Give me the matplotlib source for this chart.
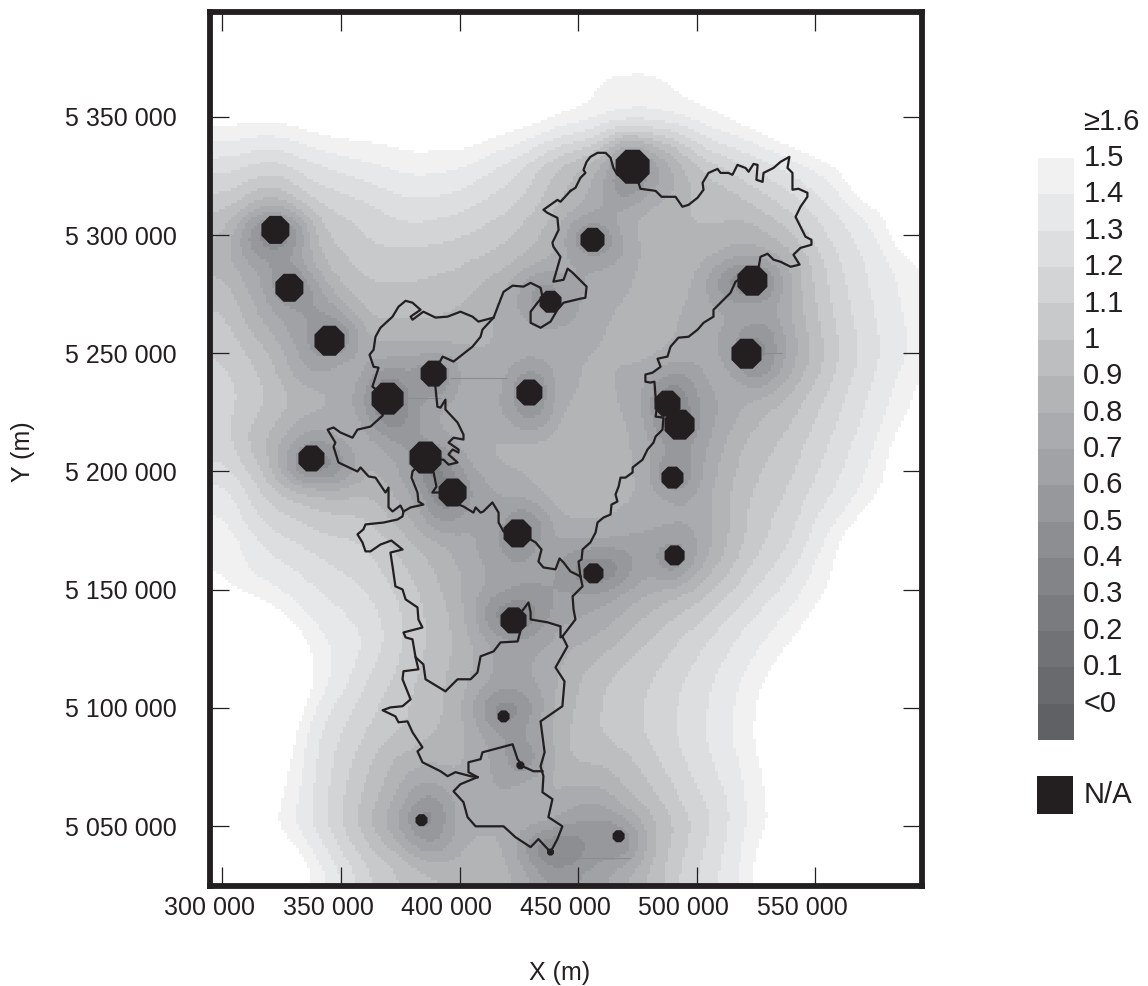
import numpy as np
import matplotlib
matplotlib.use("Agg")
import matplotlib.pyplot as plt
from matplotlib.colors import ListedColormap, BoundaryNorm
from matplotlib.patches import Rectangle
from matplotlib.transforms import ScaledTranslation
from matplotlib.tri import Triangulation, LinearTriInterpolator

plt.rcParams['font.family'] = ['Liberation Sans', 'DejaVu Sans']
INK = '#231f20'

# Field readings (band value) on a 20 km grid, km coordinates
grid_x = [300, 320, 340, 360, 380, 400, 420, 440, 460, 480, 500, 520, 540, 560, 580, 600]
grid_y = [5390, 5370, 5350, 5330, 5310, 5290, 5270, 5250, 5230, 5210, 5190, 5170, 5150, 5130, 5110, 5090, 5070, 5050, 5030]
field = [
 [2.0, 2.0, 2.0, 2.0, 2.0, 2.0, 2.0, 2.0, 1.9, 1.9, 2.0, 2.0, 2.0, 2.0, 2.0, 2.0],
 [1.9, 1.9, 1.9, 1.9, 2.0, 2.0, 2.0, 1.7, 1.5, 1.48, 1.6, 1.9, 2.0, 2.0, 2.0, 2.0],
 [1.55, 1.52, 1.6, 1.62, 1.65, 1.7, 1.6, 1.5, 1.42, 1.38, 1.45, 1.55, 1.75, 1.9, 2.0, 2.0],
 [1.25, 1.15, 1.3, 1.38, 1.45, 1.42, 1.28, 1.0, 0.8, 0.6, 1.0, 1.2, 1.35, 1.5, 1.9, 2.0],
 [1.0, 0.7, 1.05, 1.15, 1.25, 1.2, 1.1, 0.9, 0.7, 0.85, 0.92, 0.92, 1.1, 1.3, 1.5, 2.0],
 [0.85, 0.6, 0.9, 1.05, 1.05, 1.02, 0.95, 0.8, 0.7, 0.85, 0.85, 0.7, 0.85, 1.2, 1.38, 1.55],
 [1.0, 0.7, 0.6, 0.95, 0.95, 0.9, 0.75, 0.62, 0.78, 0.85, 0.78, 0.72, 0.82, 1.15, 1.35, 1.5],
 [1.1, 0.9, 0.55, 0.78, 0.75, 0.78, 0.78, 0.78, 0.82, 0.85, 0.75, 0.6, 0.75, 1.1, 1.32, 1.48],
 [1.15, 1.0, 0.85, 0.6, 0.62, 0.78, 0.7, 0.76, 0.86, 0.68, 0.6, 0.8, 0.95, 1.18, 1.38, 1.6],
 [1.15, 0.85, 0.55, 0.8, 0.58, 0.75, 0.86, 0.88, 0.88, 0.75, 0.65, 0.92, 1.05, 1.25, 1.45, 1.9],
 [1.35, 1.05, 0.92, 0.92, 0.7, 0.55, 0.72, 0.87, 0.89, 0.78, 0.72, 0.98, 1.12, 1.33, 1.52, 2.0],
 [1.48, 1.25, 1.15, 1.1, 0.9, 0.75, 0.55, 0.72, 0.72, 0.68, 0.68, 1.0, 1.2, 1.48, 2.0, 2.0],
 [1.52, 1.42, 1.3, 1.2, 1.02, 0.82, 0.65, 0.62, 0.62, 0.8, 0.92, 1.15, 1.35, 1.55, 2.0, 2.0],
 [1.9, 1.7, 1.42, 1.3, 1.05, 0.88, 0.62, 0.72, 0.82, 1.0, 1.15, 1.33, 1.48, 1.7, 2.0, 2.0],
 [2.0, 1.9, 1.45, 1.2, 1.0, 0.85, 0.65, 0.8, 1.0, 1.1, 1.25, 1.42, 1.65, 2.0, 2.0, 2.0],
 [2.0, 1.7, 1.3, 1.1, 0.98, 0.85, 0.6, 0.85, 1.02, 1.12, 1.27, 1.46, 1.68, 2.0, 2.0, 2.0],
 [2.0, 1.6, 1.27, 1.0, 0.75, 0.82, 0.65, 0.85, 0.85, 1.02, 1.22, 1.4, 1.65, 2.0, 2.0, 2.0],
 [2.0, 1.5, 1.25, 0.92, 0.52, 0.78, 0.8, 0.7, 0.55, 0.85, 1.12, 1.38, 1.6, 2.0, 2.0, 2.0],
 [2.0, 1.8, 1.45, 1.12, 0.95, 0.88, 0.85, 0.55, 0.68, 0.92, 1.2, 1.42, 1.8, 2.0, 2.0, 2.0],
]

# N/A stations (km) with the field reading at each one
station_x = [322.3, 328.2, 345.1, 369.6, 389.0, 429.4, 337.5, 385.6, 397.0, 424.4, 456.4, 490.6, 489.7,
             492.7, 487.6, 520.9, 523.4, 438.3, 456.0, 472.9, 422.7, 418.5, 383.9, 467.0, 425.6, 438.3]
station_y = [5302.2, 5277.7, 5255.3, 5230.8, 5241.4, 5233.4, 5205.5, 5205.9, 5191.1, 5173.8, 5156.9, 5164.5, 5197.4,
             5219.8, 5228.7, 5249.8, 5280.7, 5271.8, 5298.0, 5328.9, 5137.0, 5096.4, 5052.5, 5045.7, 5075.7, 5039.0]
station_value = [0.2, 0.25, 0.25, 0.2, 0.25, 0.3, 0.2, 0.25, 0.25, 0.25, 0.25, 0.3, 0.25,
                 0.25, 0.25, 0.25, 0.2, 0.3, 0.3, 0.25, 0.25, 0.3, 0.3, 0.3, 0.35, 0.25]
station_size = [14, 14, 15, 16, 13, 13, 13, 16, 14, 14, 10, 10, 11, 15, 13, 15, 15, 11, 12, 17, 13, 6, 6, 6, 4, 3.5]

# Basin boundaries (km)
border_a = [(446.7,5318.7),(448.8,5320.0),(450.9,5324.2),(453.0,5326.3),(452.2,5327.6),(453.5,5331.0),(455.1,5333.1),(458.1,5334.8),
 (461.5,5334.8),(463.6,5332.7),(464.8,5328.4),(466.5,5325.5),(475.4,5322.1),(476.2,5319.6),(482.6,5318.7),(485.1,5316.2),(491.0,5316.2),
 (493.9,5312.0),(496.5,5312.8),(500.3,5315.8),(502.8,5319.2),(502.4,5322.1),(504.9,5326.3),(508.7,5328.0),(510.0,5326.3),(513.3,5326.3),
 (515.0,5325.5),(517.1,5329.7),(520.5,5328.4),(521.8,5326.8),(523.9,5330.1),(525.6,5329.7),(525.1,5323.4),(527.7,5322.5),(528.1,5326.3),
 (532.3,5328.4),(535.3,5331.0),(539.0,5333.1),(538.2,5328.4),(540.3,5326.3),(540.3,5319.2),(542.8,5319.6),(546.6,5317.9),(546.6,5316.2),
 (543.7,5312.0),(541.6,5307.7),(543.7,5303.5),(545.8,5299.3),(548.3,5298.0),(548.3,5295.9),(543.7,5294.6),(540.7,5291.7),(543.3,5287.5),
 (539.5,5286.6),(535.3,5288.7),(532.3,5289.6),(529.8,5292.1),(526.8,5290.8),(526.0,5286.2),(516.3,5280.3),(514.2,5275.6),(507.0,5268.4),
 (507.0,5265.5),(502.8,5262.9),(500.3,5260.0),(496.5,5257.0),(492.2,5256.6),(488.9,5252.8),(487.6,5248.6),(483.4,5247.7),(484.7,5244.3),
 (481.3,5241.8),(478.3,5241.0),(478.3,5238.0),(480.4,5237.6),(482.1,5238.0),(483.0,5226.2),(482.6,5223.2),(485.9,5222.8),(485.5,5217.7),
 (482.6,5214.8),(481.7,5212.2),(479.2,5209.3),(477.1,5205.0),(472.9,5201.7),(472.9,5199.6),(469.9,5197.4),(467.8,5197.4),(467.0,5193.6),
 (465.7,5190.3),(466.5,5187.3),(464.0,5186.0),(463.6,5181.8),(460.6,5180.5),(458.1,5178.4),(457.3,5174.2),(455.1,5170.0),(451.8,5167.0),
 (451.4,5162.8),(450.1,5161.9),(450.9,5155.6)]
border_b = [(450.9,5155.6),(446.7,5157.7),(443.8,5161.5),(442.1,5163.2),(440.4,5158.6),(435.3,5159.4),(433.2,5161.9),(434.5,5167.0),
 (432.0,5170.0),(429.9,5171.2),(424.4,5173.8),(418.5,5174.6),(416.4,5178.4),(416.4,5182.6),(413.8,5186.9),(410.0,5183.1),(408.8,5182.6),
 (406.7,5184.8),(405.8,5182.6),(401.6,5185.2),(399.5,5186.0),(397.0,5191.1),(388.5,5191.1),(390.2,5193.6),(389.0,5199.6),(385.6,5205.9)]
border_c = [(389.0,5241.4),(389.8,5235.5),(390.6,5227.4),(391.9,5227.0),(394.0,5230.4),(394.0,5226.2),(399.1,5220.7),(401.6,5215.6),
 (401.6,5213.5),(397.4,5214.3),(395.3,5212.2),(399.5,5209.3),(399.5,5208.0),(397.0,5209.3),(395.3,5207.2),(399.1,5203.8),(395.3,5202.9),
 (393.2,5205.0),(390.6,5205.0),(385.6,5205.9)]
border_d = [(385.6,5205.9),(380.1,5200.0),(379.7,5197.4),(382.2,5191.1),(382.6,5187.3),(384.7,5186.0),(379.3,5184.8),(376.3,5183.1)]
border_e = [(369.6,5230.8),(367.5,5223.6),(362.4,5219.0),(356.9,5217.7),(354.8,5214.3),(349.7,5216.5),(346.8,5218.6),(344.3,5217.7),
 (347.6,5212.2),(346.8,5210.5),(348.9,5203.8),(356.9,5200.0),(358.2,5201.7),(361.6,5197.9),(364.5,5197.4),(368.7,5191.1),(370.0,5193.2),
 (370.0,5184.8),(371.7,5183.1),(375.0,5185.6),(376.3,5183.1)]
border_f = [(376.3,5183.1),(375.9,5181.0),(373.8,5179.7),(367.9,5178.4),(360.3,5177.6),(359.4,5175.5),(356.9,5173.4),(359.0,5170.0),
 (360.3,5166.2),(362.4,5166.2),(366.6,5169.1),(371.2,5170.8),(375.9,5167.0),(370.8,5165.7),(371.7,5159.8),(372.9,5151.4),(375.9,5150.1),
 (377.2,5145.9),(382.2,5142.5),(382.6,5137.4),(384.3,5134.0),(376.3,5131.9),(377.2,5129.8),(380.1,5129.0),(381.4,5121.4),(384.7,5118.4),
 (385.6,5112.1),(394.0,5107.0),(399.1,5112.1),(404.6,5112.1),(407.5,5115.0),(408.8,5121.8),(414.3,5123.9),(417.2,5127.7),(424.4,5128.1),
 (425.6,5132.4),(422.7,5137.0)]
border_g = [(381.4,5121.4),(382.6,5116.3),(376.3,5115.5),(375.9,5112.1),(379.3,5103.6),(375.9,5100.7),(370.8,5100.2),(367.5,5099.0),
 (372.9,5096.4),(374.2,5093.9),(378.0,5094.3),(380.1,5089.7),(384.3,5083.3),(382.2,5081.6),(384.3,5077.0),(391.9,5073.2),(394.9,5071.1),
 (398.2,5072.8),(404.6,5071.1),(407.5,5070.7)]
border_h = [(407.5,5070.7),(400.3,5067.7),(397.4,5064.7),(401.6,5060.1),(403.3,5053.8),(406.7,5049.9),(418.5,5049.9),(423.5,5045.3),
 (429.9,5041.1),(433.2,5044.5),(438.3,5039.0),(441.2,5044.5),(443.3,5049.9),(437.4,5053.8),(439.1,5061.4),(434.9,5064.3),(435.3,5071.1),
 (434.1,5075.3),(435.8,5081.2),(434.1,5094.3),(443.3,5100.7),(444.2,5111.2),(440.4,5117.1),(445.4,5126.0),(443.3,5130.2),(448.8,5137.4),
 (448.0,5141.7),(447.6,5147.2),(451.8,5151.4),(450.9,5155.6)]
border_i = [(422.7,5137.0),(426.9,5141.7),(429.0,5144.6),(429.9,5140.4),(429.9,5137.4),(437.0,5136.2),(442.5,5134.5),(442.5,5129.8),(443.3,5130.2)]
border_j = [(407.5,5070.7),(403.7,5072.8),(403.7,5077.0),(408.8,5078.3),(409.6,5081.2),(422.3,5084.6),(424.4,5078.3),(426.5,5075.3),
 (431.1,5073.2),(434.9,5073.2)]
border_k = [(389.0,5241.4),(392.8,5248.6),(397.4,5246.5),(405.4,5252.8),(408.8,5257.0),(409.6,5260.0),(414.3,5265.1),(417.2,5272.7),
 (418.5,5276.0),(422.3,5278.6),(426.9,5278.2),(429.9,5279.8),(434.1,5277.7),(434.9,5273.9),(432.8,5271.4),(429.9,5267.6),(429.9,5262.9),
 (434.1,5260.8),(438.3,5263.4),(441.2,5268.4),(443.8,5271.4),(450.9,5273.1),(453.0,5273.5),(453.5,5278.2),(447.6,5284.1),(445.5,5285.8),
 (443.8,5281.1),(439.5,5280.3),(441.2,5286.2),(442.5,5290.8),(439.5,5295.1),(439.1,5296.8),(441.7,5302.2),(441.2,5307.3),(437.0,5309.4),
 (435.3,5310.7),(441.2,5314.9),(442.5,5314.1),(446.7,5318.7)]
border_l = [(414.3,5265.1),(407.9,5263.4),(405.4,5265.5),(400.3,5267.6),(394.9,5265.5),(389.8,5265.1),(384.7,5267.6),(380.1,5264.2),
 (379.3,5265.5),(383.5,5268.4),(380.1,5271.4),(377.2,5272.2),(374.2,5269.7),(371.7,5265.5),(366.6,5260.8),(364.5,5257.0),(363.7,5251.5),
 (362.0,5249.4),(363.7,5244.3),(365.8,5243.9),(363.2,5235.9),(369.6,5230.8)]
borders = [border_a, border_b, border_c, border_d, border_e, border_f, border_g, border_h, border_i, border_j, border_k, border_l]

# Faint horizontal streaks in the field (x start, x end, y; km)
streak_x0 = [396.0, 440.0, 520.0, 378.0]
streak_x1 = [420.0, 472.0, 536.0, 392.0]
streak_y = [5239.6, 5036.7, 5250.2, 5231.0]

# Legend bands
band_edges = [-0.1, 0.0, 0.1, 0.2, 0.3, 0.4, 0.5, 0.6, 0.7, 0.8, 0.9, 1.0, 1.1, 1.2, 1.3, 1.4, 1.5]
band_colors = ['#606164', '#696a6d', '#717275', '#7a7b7e', '#838487', '#8c8e91', '#96989b', '#a0a2a5',
               '#a9abae', '#b2b4b6', '#bcbec0', '#c8c9cb', '#d3d4d6', '#dddee0', '#e7e8e9', '#f1f1f2']
legend_values = [1.6, 1.5, 1.4, 1.3, 1.2, 1.1, 1.0, 0.9, 0.8, 0.7, 0.6, 0.5, 0.4, 0.3, 0.2, 0.1, 0.0]
legend_labels = ['≥1.6', '1.5', '1.4', '1.3', '1.2', '1.1', '1', '0.9', '0.8', '0.7', '0.6', '0.5', '0.4', '0.3', '0.2', '0.1', '<0']

x_ticks = [300000, 350000, 400000, 450000, 500000, 550000]
y_ticks = [5050000, 5100000, 5150000, 5200000, 5250000, 5300000, 5350000]
x_limits = (294520, 594700)
y_limits = (5024650, 5394370)


def spaced(v):
    return f"{v:,}".replace(",", " ")


W, H = 1148, 986
fig = plt.figure(figsize=(W / 100, H / 100), dpi=100, facecolor='white')
ax = fig.add_axes([209.5 / W, 1 - 886 / H, (921.5 - 209.5) / W, (886 - 12) / H])

cmap = ListedColormap(band_colors)
cmap.set_over('white')
cmap.set_under(band_colors[0])
norm = BoundaryNorm(band_edges, cmap.N)

# Readings (grid and stations) joined on a triangulation, then softened with a moving average
gx, gy = np.meshgrid(grid_x, grid_y)
node_x = np.concatenate([gx.ravel(), station_x])
node_y = np.concatenate([gy.ravel(), station_y])
node_v = np.concatenate([np.array(field).ravel(), station_value])
interp = LinearTriInterpolator(Triangulation(node_x, node_y), node_v)
step = 1.25
pad = 12
mx = x_limits[0] / 1000 + step * np.arange(-pad, int((x_limits[1] - x_limits[0]) / 1000 / step) + pad + 2)
my = y_limits[0] / 1000 + step * np.arange(-pad, int((y_limits[1] - y_limits[0]) / 1000 / step) + pad + 2)
MX, MY = np.meshgrid(mx, my)
surface = np.ma.filled(interp(np.clip(MX, grid_x[0], grid_x[-1]), np.clip(MY, grid_y[-1], grid_y[0])), 2.0)
kernel = np.ones(9) / 9
for _ in range(2):
    surface = np.apply_along_axis(lambda r: np.convolve(r, kernel, mode='same'), 1, surface)
    surface = np.apply_along_axis(lambda c: np.convolve(c, kernel, mode='same'), 0, surface)
surface = surface[pad:-pad, pad:-pad]
ax.imshow(surface, cmap=cmap, norm=norm, origin='lower', aspect='auto', interpolation='nearest',
          extent=(mx[pad] * 1000, mx[-pad - 1] * 1000, my[pad] * 1000, my[-pad - 1] * 1000), zorder=1)

ax.hlines(np.array(streak_y) * 1000, np.array(streak_x0) * 1000, np.array(streak_x1) * 1000,
          color='#8a8c8f', lw=0.8, zorder=2)

for seg in borders:
    pts = np.array(seg) * 1000
    ax.plot(pts[:, 0], pts[:, 1], color=INK, lw=1.6, solid_joinstyle='round', zorder=3)

ax.scatter(np.array(station_x) * 1000, np.array(station_y) * 1000,
           s=(1.56 * np.array(station_size)) ** 2, marker='8', color=INK, linewidths=0, zorder=4)

ax.set_xlim(*x_limits)
ax.set_ylim(*y_limits)
ax.set_xticks(x_ticks, [spaced(v) for v in x_ticks])
ax.set_yticks(y_ticks, [spaced(v) for v in y_ticks])
ax.tick_params(axis='both', which='major', direction='in', length=14, width=0.9, color=INK,
               top=True, right=True, labelsize=18, labelcolor=INK)
ax.tick_params(axis='y', pad=23.5)
ax.tick_params(axis='x', pad=7.5)
shift = ScaledTranslation(-13 / 100, 0, fig.dpi_scale_trans)
for lab in ax.get_xticklabels():
    lab.set_transform(lab.get_transform() + shift)
for s in ax.spines.values():
    s.set_linewidth(4.2)
    s.set_color(INK)
    s.set_zorder(6)
ax.set_xlabel('X (m)', fontsize=18, color=INK)
ax.set_ylabel('Y (m)', fontsize=18, color=INK)
ax.xaxis.set_label_coords((560 - 209.5) / 712, -(961 - 886) / 874)
ax.yaxis.set_label_coords(-(209.5 - 35) / 712, (886 - 452) / 874)

# Legend
cax = fig.add_axes([1038 / W, 1 - 740 / H, 36 / W, (740 - 158) / H])
cax.pcolormesh([0, 1], band_edges, np.array(band_edges[:-1]).reshape(-1, 1) + 0.05, cmap=cmap, norm=norm)
cax.set_xlim(0, 1)
cax.set_ylim(band_edges[0], band_edges[-1])
cax.axis('off')
for v, lab in zip(legend_values, legend_labels):
    cax.text(1.26, v, lab, fontsize=21, va='center', ha='left', color=INK, clip_on=False)

fig.add_artist(Rectangle((1037 / W, 1 - 814 / H), 36 / W, 38 / H, transform=fig.transFigure,
                         facecolor=INK, edgecolor='none'))
fig.text(1084 / W, 1 - 795 / H, 'N/A', fontsize=21, va='center', ha='left', color=INK)

fig.savefig('out.png', dpi=100)
